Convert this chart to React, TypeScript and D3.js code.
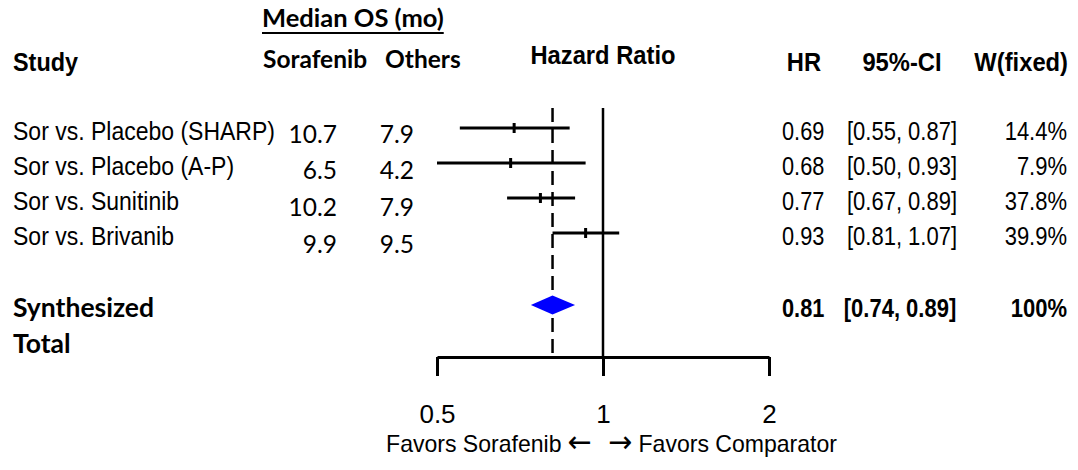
import { useEffect, useRef } from 'react'
import * as d3 from 'd3'

// study rows
const studies = ['Sor vs. Placebo (SHARP)', 'Sor vs. Placebo (A-P)', 'Sor vs. Sunitinib', 'Sor vs. Brivanib']
const osSorafenib = [10.7, 6.5, 10.2, 9.9]
const osOthers = [7.9, 4.2, 7.9, 9.5]
const hazard = [0.69, 0.68, 0.77, 0.93]
const ciLow = [0.55, 0.50, 0.67, 0.81]
const ciHigh = [0.87, 0.93, 0.89, 1.07]
const weightFixed = [14.4, 7.9, 37.8, 39.9]

// pooled estimate
const pooledHR = 0.81
const pooledLow = 0.74
const pooledHigh = 0.89
const pooledWeight = 100

const axisTicks = [0.5, 1, 2]

const W = 1078
const H = 470
const ARIAL = "'Liberation Sans', Arial, Helvetica, sans-serif"
const CALIBRI = "Lato, Carlito, Calibri, 'Open Sans', sans-serif"
const ARROWS = "'DejaVu Sans', sans-serif"

interface TextOpts {
  size?: number
  bold?: boolean
  font?: string
  anchor?: string
  sx?: number
}

export default function App() {
  const svgRef = useRef<SVGSVGElement>(null)

  useEffect(() => {
    if (!svgRef.current) return
    const svg = d3.select(svgRef.current)
    svg.selectAll('*').remove()

    svg.append('rect').attr('width', W).attr('height', H).attr('fill', '#fff')

    const x = d3.scaleLog().domain([0.5, 2]).range([437, 769])
    const n = studies.length
    const yRow = d3.scaleLinear().domain([0, n - 1]).range([128, 233])
    const yNum = d3.scaleLinear().domain([0, n - 1]).range([142.5, 253])
    const yTop = 108
    const yAxis = 357
    const yPooled = 305

    const txt = (s: string, px: number, py: number, o: TextOpts = {}) =>
      svg.append('text')
        .attr('transform', `translate(${px},${py}) scale(${o.sx ?? 1},1)`)
        .attr('font-family', o.font ?? ARIAL)
        .attr('font-size', o.size ?? 25)
        .attr('font-weight', o.bold ? 700 : 400)
        .attr('text-anchor', o.anchor ?? 'start')
        .attr('fill', '#000')
        .text(s)

    // Headers
    const med = txt('Median OS (mo)', 262, 27, { font: CALIBRI, bold: true, size: 25.5 })
    const medW = (med.node() as SVGTextElement).getComputedTextLength()
    svg.append('line')
      .attr('x1', 262).attr('x2', 262 + medW)
      .attr('y1', 33).attr('y2', 33)
      .attr('stroke', '#000').attr('stroke-width', 2)
    txt('Sorafenib', 263, 68, { font: CALIBRI, bold: true, size: 24.5 })
    txt('Others', 385, 68, { font: CALIBRI, bold: true, size: 24.5 })
    txt('Study', 13, 71, { bold: true, size: 26, sx: 0.9 })
    txt('Hazard Ratio', 603, 64, { bold: true, size: 25, sx: 0.95, anchor: 'middle' })
    txt('HR', 804, 71, { bold: true, size: 25, sx: 0.95, anchor: 'middle' })
    txt('95%-CI', 902, 71, { bold: true, size: 25, sx: 0.95, anchor: 'middle' })
    txt('W(fixed)', 1068, 71, { bold: true, size: 25, sx: 0.95, anchor: 'end' })

    // Reference lines
    svg.append('line')
      .attr('x1', x(1)).attr('x2', x(1)).attr('y1', yTop).attr('y2', yAxis)
      .attr('stroke', '#000').attr('stroke-width', 2.5)
    svg.append('line')
      .attr('x1', x(pooledHR)).attr('x2', x(pooledHR)).attr('y1', yTop).attr('y2', yAxis)
      .attr('stroke', '#000').attr('stroke-width', 2.5).attr('stroke-dasharray', '14,7')

    // Study rows
    studies.forEach((s, i) => {
      const yl = yRow(i)
      svg.append('line')
        .attr('x1', x(ciLow[i])).attr('x2', x(ciHigh[i]))
        .attr('y1', yl).attr('y2', yl)
        .attr('stroke', '#000').attr('stroke-width', 3)
      svg.append('rect')
        .attr('x', x(hazard[i]) - 1.5).attr('y', yl - 5)
        .attr('width', 3).attr('height', 10).attr('fill', '#000')

      txt(s, 13, yl + 12, { size: 25, sx: 0.92 })
      txt(osSorafenib[i].toFixed(1), 337, yNum(i), { font: CALIBRI, size: 24.5, anchor: 'end' })
      txt(osOthers[i].toFixed(1), 414, yNum(i), { font: CALIBRI, size: 24.5, anchor: 'end' })
      txt(hazard[i].toFixed(2), 782, yl + 12, { size: 25, sx: 0.87 })
      txt(`[${ciLow[i].toFixed(2)}, ${ciHigh[i].toFixed(2)}]`, 902, yl + 12, { size: 25, sx: 0.88, anchor: 'middle' })
      txt(`${weightFixed[i].toFixed(1)}%`, 1067, yl + 12, { size: 25, sx: 0.88, anchor: 'end' })
    })

    // Pooled diamond
    const dh = 9.5
    svg.append('path')
      .attr('d', `M${x(pooledLow)},${yPooled}L${x(pooledHR)},${yPooled - dh}L${x(pooledHigh)},${yPooled}L${x(pooledHR)},${yPooled + dh}Z`)
      .attr('fill', '#0000ff')

    txt('Synthesized', 13, 317, { font: CALIBRI, bold: true, size: 26.5 })
    txt('Total', 13, 353, { font: CALIBRI, bold: true, size: 26.5 })
    txt(pooledHR.toFixed(2), 782, 317, { bold: true, size: 25, sx: 0.87 })
    txt(`[${pooledLow.toFixed(2)}, ${pooledHigh.toFixed(2)}]`, 900, 317, { bold: true, size: 25, sx: 0.88, anchor: 'middle' })
    txt(`${pooledWeight}%`, 1067, 317, { bold: true, size: 25, sx: 0.88, anchor: 'end' })

    // Axis
    svg.append('g')
      .attr('transform', `translate(0,${yAxis})`)
      .call(d3.axisBottom(x).tickValues(axisTicks).tickSize(19).tickSizeOuter(0).tickFormat(d => String(d)))
      .call(sel => {
        sel.select('.domain').attr('stroke', '#000').attr('stroke-width', 3)
        sel.selectAll('.tick line').attr('stroke', '#000').attr('stroke-width', 3)
        sel.selectAll('text')
          .attr('y', 66).attr('dy', 0)
          .attr('font-family', ARIAL).attr('font-size', 26).attr('fill', '#000')
      })

    // Direction labels with wide arrows
    const left = txt('', 592, 452, { size: 24, sx: 0.96, anchor: 'end' })
    left.append('tspan').text('Favors Sorafenib ')
    left.append('tspan').attr('font-family', ARROWS).attr('font-size', 30).text('\u2190')
    const right = txt('', 608, 452, { size: 24, sx: 0.96 })
    right.append('tspan').attr('font-family', ARROWS).attr('font-size', 30).text('\u2192')
    right.append('tspan').text(' Favors Comparator')
  }, [])

  return (
    <svg
      ref={svgRef}
      width={W}
      height={H}
      style={{ position: 'absolute', left: 0, top: 0, display: 'block' }}
    />
  )
}
